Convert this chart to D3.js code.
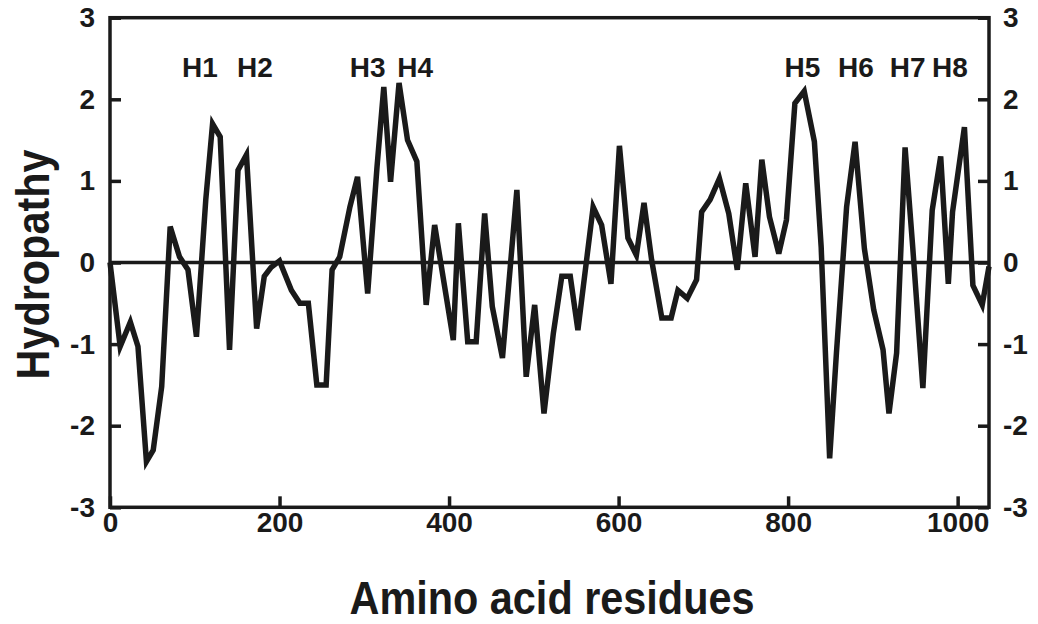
<!DOCTYPE html>
<html>
<head>
<meta charset="utf-8">
<script src="https://cdn.jsdelivr.net/npm/d3@7/dist/d3.min.js"></script>
<style>
  html, body { margin: 0; padding: 0; background: #fff; }
  svg { display: block; }
  text { font-family: "Liberation Sans", Arial, Helvetica, sans-serif; font-weight: bold; fill: #1a1a1a; }
</style>
</head>
<body>
<svg id="chart" width="1038" height="624"></svg>
<script>
// Residue positions and hydropathy values
const residues = [0, 12, 24, 33, 43, 51, 61, 71, 82, 92, 102, 113, 121, 130, 141, 151, 161, 173, 182, 190,
  200, 214, 224, 234, 244, 255, 262, 271, 283, 292, 304, 315, 323, 331, 341, 351, 362, 373, 383, 405,
  411, 422, 432, 442, 451, 463, 480, 491, 501, 512, 523, 533, 543, 552, 570, 580, 591, 601, 611, 621,
  630, 639, 651, 662, 670, 681, 692, 698, 708, 719, 730, 740, 750, 761, 769, 778, 789, 798, 808, 819,
  831, 839, 849, 857, 869, 879, 890, 901, 912, 919, 928, 938, 947, 959, 970, 980, 989, 994, 1008, 1018,
  1029, 1037];
const hydropathy = [0, -1.03, -0.73, -1.03, -2.44, -2.30, -1.52, 0.44, 0.07, -0.09, -0.91, 0.77, 1.70, 1.54, -1.07, 1.13, 1.32, -0.81, -0.17, -0.06,
  0.02, -0.34, -0.50, -0.50, -1.50, -1.50, -0.09, 0.07, 0.68, 1.05, -0.38, 1.17, 2.15, 0.99, 2.20, 1.50, 1.24, -0.52, 0.46, -0.95,
  0.48, -0.97, -0.97, 0.60, -0.54, -1.17, 0.89, -1.40, -0.52, -1.85, -0.87, -0.17, -0.17, -0.83, 0.68, 0.46, -0.26, 1.43, 0.30, 0.09,
  0.73, 0.03, -0.68, -0.68, -0.34, -0.44, -0.21, 0.62, 0.77, 1.03, 0.60, -0.09, 0.97, 0.07, 1.26, 0.56, 0.11, 0.52, 1.95, 2.10,
  1.48, 0.19, -2.40, -1.11, 0.68, 1.48, 0.17, -0.58, -1.07, -1.85, -1.11, 1.41, 0.19, -1.54, 0.64, 1.30, -0.26, 0.62, 1.66, -0.28,
  -0.52, -0.05];

// Helix annotations
const helixLabels = ["H1", "H2", "H3", "H4", "H5", "H6", "H7", "H8"];
const helixResidues = [106, 171, 304, 360, 817, 880, 941, 991];
const helixLabelLevel = 2.27;

const xTicks = [0, 200, 400, 600, 800, 1000];
const yTicks = [-3, -2, -1, 0, 1, 2, 3];
const xDomain = [0, 1037];
const yDomain = [-3, 3];

const svg = d3.select("#chart");
const mLeft = 110, mRight = 989, mTop = 17.7, mBottom = 507.3;

const x = d3.scaleLinear().domain(xDomain).range([mLeft, mRight]);
const y = d3.scaleLinear().domain(yDomain).range([mBottom, mTop]);

const ink = "#1a1a1a";
const plainFormat = d => String(d);   // ASCII hyphen-minus as in the original

// zero line
svg.append("line")
  .attr("x1", mLeft).attr("x2", mRight)
  .attr("y1", y(0)).attr("y2", y(0))
  .attr("stroke", ink).attr("stroke-width", 3.5);

// data line
const line = d3.line().x(d => x(d[0])).y(d => y(d[1]));
svg.append("path")
  .datum(residues.map((r, i) => [r, hydropathy[i]]))
  .attr("d", line)
  .attr("fill", "none")
  .attr("stroke", ink)
  .attr("stroke-width", 5.5)
  .attr("stroke-linejoin", "miter")
  .attr("stroke-miterlimit", 4);

// axes
function styleAxis(g) {
  g.select(".domain").remove();
  g.selectAll(".tick line").attr("stroke", ink).attr("stroke-width", 3.5);
  g.selectAll(".tick text").style("font-size", "28px").attr("fill", ink);
}

svg.append("g")
  .attr("transform", `translate(${mLeft},0)`)
  .call(d3.axisLeft(y).tickValues(yTicks).tickSize(-11).tickPadding(15).tickFormat(plainFormat))
  .call(styleAxis);

svg.append("g")
  .attr("transform", `translate(${mRight},0)`)
  .call(d3.axisRight(y).tickValues(yTicks).tickSize(-11).tickPadding(14).tickFormat(plainFormat))
  .call(styleAxis);

svg.append("g")
  .attr("transform", `translate(0,${mBottom})`)
  .call(d3.axisBottom(x).tickValues(xTicks).tickSize(-11).tickPadding(5).tickFormat(plainFormat))
  .call(styleAxis);

// frame
svg.append("rect")
  .attr("x", mLeft).attr("y", mTop)
  .attr("width", mRight - mLeft).attr("height", mBottom - mTop)
  .attr("fill", "none").attr("stroke", ink).attr("stroke-width", 3.5);

// helix labels
svg.append("g").selectAll("text")
  .data(helixLabels)
  .join("text")
  .attr("x", (d, i) => x(helixResidues[i]))
  .attr("y", y(helixLabelLevel))
  .attr("text-anchor", "middle")
  .style("font-size", "28px")
  .text(d => d);

// axis titles
svg.append("text")
  .attr("x", 552).attr("y", 614)
  .attr("text-anchor", "middle")
  .attr("textLength", 405)
  .attr("lengthAdjust", "spacingAndGlyphs")
  .style("font-size", "46px")
  .text("Amino acid residues");

svg.append("text")
  .attr("transform", `translate(49,${(mTop + mBottom) / 2 + 2}) rotate(-90)`)
  .attr("text-anchor", "middle")
  .attr("textLength", 230)
  .attr("lengthAdjust", "spacingAndGlyphs")
  .style("font-size", "46px")
  .text("Hydropathy");
</script>
</body>
</html>
